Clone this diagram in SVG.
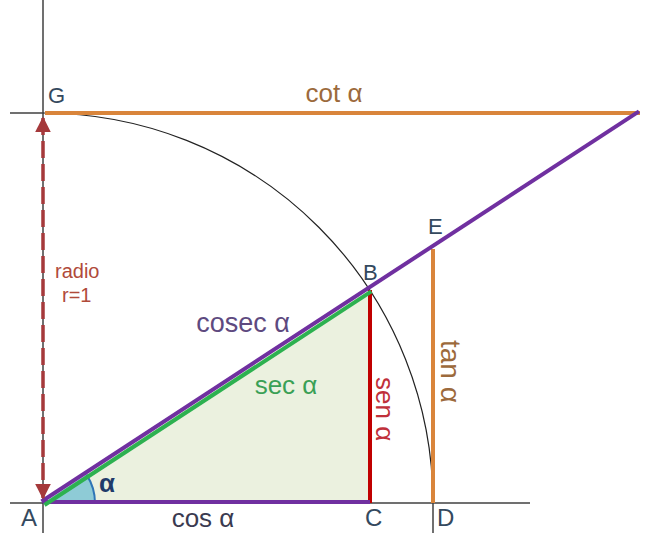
<svg xmlns="http://www.w3.org/2000/svg" width="645" height="533" viewBox="0 0 645 533">
<defs>
<marker id="arr" viewBox="0 0 10 10" refX="9" refY="5" markerWidth="4.5" markerHeight="4.5" orient="auto-start-reverse" markerUnits="strokeWidth">
<path d="M0,0 L10,5 L0,10 z" fill="#a5393b"/>
</marker>
<style>
text{font-family:"Liberation Sans",Arial,sans-serif}
.pt{font-size:22px;fill:#34495e}
.ax{stroke:#404040;stroke-width:1.5;fill:none}
.thick{stroke-width:4;fill:none;stroke-linecap:butt}
</style>
</defs>
<rect width="645" height="533" fill="#ffffff"/>
<g id="fill">
<polygon points="43,503 369.5,289.7 370,503" fill="#ebf1df"/>
<path d="M43,503 L95,503 A52,52 0 0 0 86.5,474.6 Z" fill="#8ecbd6"/>
<path d="M95,503 A52,52 0 0 0 86.5,474.6" fill="none" stroke="#2e75b6" stroke-width="2"/>
</g>
<g id="axes">
<line class="ax" x1="43" y1="0" x2="43" y2="533"/>
<line class="ax" x1="10" y1="503" x2="530" y2="503"/>
<line class="ax" x1="10" y1="113" x2="43" y2="113"/>
<line class="ax" x1="433" y1="503" x2="433" y2="533"/>
<path d="M43,113 A390,390 0 0 1 433,503" fill="none" stroke="#222" stroke-width="1.2"/>
</g>
<g id="connectors">
<line class="thick" x1="45" y1="113" x2="640" y2="113" stroke="#d9853b"/>
<line class="thick" x1="433" y1="249" x2="433" y2="503" stroke="#d9853b"/>
<line class="thick" x1="370" y1="290" x2="370" y2="503" stroke="#c00000"/>
<line class="thick" x1="43" y1="502" x2="370" y2="502" stroke="#7030a0"/>
<line class="thick" x1="44.5" y1="505" x2="371.4" y2="291.3" stroke="#2db150"/>
<line class="thick" x1="41.5" y1="501.5" x2="639" y2="111.3" stroke="#7030a0"/>
<line x1="43" y1="118" x2="43" y2="498" stroke="#a5393b" stroke-width="3.5" stroke-dasharray="17,6" marker-start="url(#arr)" marker-end="url(#arr)"/>
</g>
<g id="labels">
<text class="pt" x="48" y="103">G</text>
<text class="pt" x="428" y="234">E</text>
<text class="pt" x="363" y="280">B</text>
<text class="pt" x="21" y="526" style="font-size:24px">A</text>
<text class="pt" x="365" y="526" style="font-size:24px">C</text>
<text class="pt" x="437" y="526" style="font-size:24px">D</text>
<text x="334" y="102" text-anchor="middle" font-size="26" fill="#9c6a3c">cot α</text>
<text x="203" y="527" text-anchor="middle" font-size="26" fill="#3a3a50">cos α</text>
<text x="243" y="332" text-anchor="middle" font-size="27" fill="#5e4a80">cosec α</text>
<text x="286" y="394" text-anchor="middle" font-size="26" fill="#3aa055">sec α</text>
<text transform="translate(376,377) rotate(90)" font-size="26" fill="#c0303a">sen α</text>
<text transform="translate(441,340) rotate(90)" font-size="28" fill="#9c6a3c">tan α</text>
<text x="55" y="278" font-size="20" fill="#b04a3a">radio</text>
<text x="62" y="302" font-size="20" fill="#b04a3a">r=1</text>
<text x="99" y="492" font-size="26" font-weight="bold" fill="#1f3b6a">α</text>
</g>
</svg>
